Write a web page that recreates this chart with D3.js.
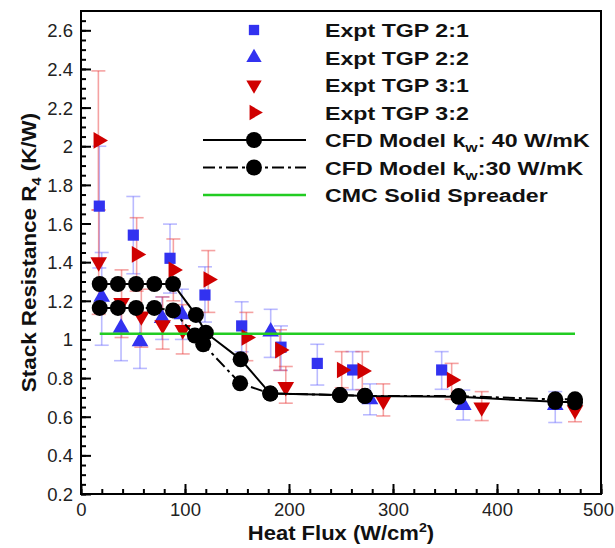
<!DOCTYPE html>
<html>
<head>
<meta charset="utf-8">
<script src="https://cdn.jsdelivr.net/npm/d3@7"></script>
<style>
  body { margin: 0; background: #fff; }
  text { font-family: "Liberation Sans", Arial, sans-serif; }
</style>
</head>
<body>
<svg id="chart" width="615" height="548"></svg>
<script>
// heat flux (W/cm2) and stack resistance (K/W)
var tgp21X  = [17.6, 50.3, 85.6, 119.2, 154.5, 192.3, 227.2, 261.2, 346.8];
var tgp21Y  = [1.69, 1.54, 1.42, 1.23, 1.07, 0.96, 0.876, 0.842, 0.842];
var tgp21Lo = [1.37, 1.34, 1.24, 1.09, 0.936, 0.84, 0.764, 0.74, 0.742];
var tgp21Hi = [2.00, 1.74, 1.597, 1.376, 1.195, 1.07, 0.975, 0.937, 0.937];

var tgp22X  = [19.9, 38.5, 56.7, 78, 97, 182.4, 277.9, 367.6, 456];
var tgp22Y  = [1.22, 1.06, 0.99, 1.11, 1.13, 1.04, 0.69, 0.66, 0.66];
var tgp22Lo = [0.97, 0.89, 0.85, 1.0, 1.0, 0.907, 0.61, 0.583, 0.57];
var tgp22Hi = [1.45, 1.21, 1.13, 1.22, 1.26, 1.156, 0.77, 0.738, 0.73];

var tgp31X  = [17, 39, 58, 78.5, 97.8, 196.9, 290.7, 385.3, 475];
var tgp31Y  = [1.40, 1.19, 1.12, 1.075, 1.05, 0.755, 0.683, 0.649, 0.635];
var tgp31Lo = [1.13, 1.01, 0.96, 0.95, 0.925, 0.67, 0.604, 0.58, 0.574];
var tgp31Hi = [1.67, 1.36, 1.26, 1.22, 1.18, 0.86, 0.77, 0.73, 0.70];

var tgp32X  = [16.7, 53.5, 88.8, 122.4, 159, 191.3, 250.7, 270.5, 356.4];
var tgp32Y  = [2.03, 1.44, 1.36, 1.31, 1.01, 0.945, 0.842, 0.837, 0.79];
var tgp32Lo = [1.67, 1.25, 1.20, 1.14, 0.89, 0.84, 0.75, 0.74, 0.69];
var tgp32Hi = [2.39, 1.63, 1.52, 1.46, 1.14, 1.05, 0.937, 0.937, 0.876];

var cfd40X = [18, 35.5, 53, 70.5, 88.5, 110.5, 120, 153.5, 182, 249, 273, 363, 456, 475];
var cfd40Y = [1.287, 1.287, 1.287, 1.287, 1.287, 1.127, 1.035, 0.897, 0.72, 0.712, 0.707, 0.703, 0.677, 0.675];
var cfd30X = [18, 35.5, 53, 70.5, 88.5, 109.5, 117.5, 153, 182, 249, 273, 363, 456, 475];
var cfd30Y = [1.163, 1.163, 1.163, 1.163, 1.15, 1.02, 0.975, 0.773, 0.72, 0.712, 0.708, 0.707, 0.69, 0.69];

var cmcX = [18, 475];
var cmcY = [1.03, 1.03];

var xTicks = [0, 100, 200, 300, 400, 500];
var yTicks = [0.2, 0.4, 0.6, 0.8, 1, 1.2, 1.4, 1.6, 1.8, 2, 2.2, 2.4, 2.6];

var legendLabels = ['Expt TGP 2:1', 'Expt TGP 2:2', 'Expt TGP 3:1', 'Expt TGP 3:2',
                    'CFD Model k|w|: 40 W/mK', 'CFD Model k|w|:30 W/mK', 'CMC Solid Spreader'];

var svg = d3.select('#chart');
var margin = { top: 11, right: 14, bottom: 54, left: 81 };
var width = 615, height = 548;

var x = d3.scaleLinear().domain([0, 500]).range([margin.left, width - margin.right]);
var y = d3.scaleLinear().domain([0.2, 2.7]).range([height - margin.bottom, margin.top]);

var blue = '#3232f0', red = '#d00000';
var blueBar = 'rgba(90,90,255,0.42)', redBar = 'rgba(235,60,60,0.48)';
var stretch = 1.22;

var series = [
    { xs: tgp21X, ys: tgp21Y, lo: tgp21Lo, hi: tgp21Hi, shape: d3.symbolSquare, size: 125, rot: 0, color: blue, bar: blueBar },
    { xs: tgp22X, ys: tgp22Y, lo: tgp22Lo, hi: tgp22Hi, shape: d3.symbolTriangle, size: 120, rot: 0, color: blue, bar: blueBar },
    { xs: tgp31X, ys: tgp31Y, lo: tgp31Lo, hi: tgp31Hi, shape: d3.symbolTriangle, size: 120, rot: 180, color: red, bar: redBar },
    { xs: tgp32X, ys: tgp32Y, lo: tgp32Lo, hi: tgp32Hi, shape: d3.symbolTriangle, size: 120, rot: 90, color: red, bar: redBar }
];

// axes (ticks point inward)
svg.append('g')
    .attr('transform', 'translate(0,' + y(0.2) + ')')
    .call(d3.axisBottom(x).tickValues(d3.range(0, 501, 20)).tickSize(-5).tickFormat(''))
    .call(g => g.select('.domain').remove());
svg.append('g')
    .attr('transform', 'translate(' + x(0) + ',0)')
    .call(d3.axisLeft(y).tickValues(d3.range(0.2, 2.7, 0.05)).tickSize(-5).tickFormat(''))
    .call(g => g.select('.domain').remove());

var xAxis = svg.append('g')
    .attr('transform', 'translate(0,' + y(0.2) + ')')
    .call(d3.axisBottom(x).tickValues(xTicks).tickSize(-10).tickPadding(5).tickFormat(d3.format('d')));
xAxis.select('.domain').remove();

var yAxis = svg.append('g')
    .attr('transform', 'translate(' + x(0) + ',0)')
    .call(d3.axisLeft(y).tickValues(yTicks).tickSize(-10).tickPadding(8).tickFormat(d => String(+d.toFixed(1))));
yAxis.select('.domain').remove();

svg.selectAll('.tick line').attr('stroke', '#000').attr('stroke-width', 2);
svg.selectAll('.tick text').attr('fill', '#222').style('font-size', '18.5px');
xAxis.selectAll('.tick text').attr('dy', '0.9em').filter(d => d === 500).attr('dx', -3);
yAxis.selectAll('.tick text').attr('dy', '0.35em');

// error bars
series.forEach(function(s) {
    var g = svg.append('g').attr('stroke', s.bar).attr('stroke-width', 1.6).attr('fill', 'none');
    s.xs.forEach(function(v, i) {
        var cx = x(v);
        g.append('line').attr('x1', cx).attr('x2', cx).attr('y1', y(s.lo[i])).attr('y2', y(s.hi[i]));
        g.append('line').attr('x1', cx - 7).attr('x2', cx + 7).attr('y1', y(s.lo[i])).attr('y2', y(s.lo[i]));
        g.append('line').attr('x1', cx - 7).attr('x2', cx + 7).attr('y1', y(s.hi[i])).attr('y2', y(s.hi[i]));
    });
});

// markers
series.forEach(function(s) {
    var sym = d3.symbol().type(s.shape).size(s.size);
    svg.append('g').selectAll('path')
        .data(s.xs.map((v, i) => [v, s.ys[i]]))
        .enter().append('path')
        .attr('d', sym)
        .attr('fill', s.color)
        .attr('transform', d => 'translate(' + x(d[0]) + ',' + y(d[1]) + ') rotate(' + s.rot + ')');
});

// CMC solid spreader
var line = d3.line().x(d => x(d[0])).y(d => y(d[1]));
svg.append('path')
    .datum(cmcX.map((v, i) => [v, cmcY[i]]))
    .attr('d', line).attr('stroke', '#22cc22').attr('stroke-width', 2.5).attr('fill', 'none');

// CFD models
var cfd = [
    { xs: cfd30X, ys: cfd30Y, dash: '12,4,3,4' },
    { xs: cfd40X, ys: cfd40Y, dash: null }
];
cfd.forEach(function(c) {
    var pts = c.xs.map((v, i) => [v, c.ys[i]]);
    svg.append('path').datum(pts).attr('d', line)
        .attr('stroke', '#000').attr('stroke-width', 2).attr('fill', 'none')
        .attr('stroke-dasharray', c.dash);
    svg.append('g').selectAll('circle').data(pts).enter().append('circle')
        .attr('cx', d => x(d[0])).attr('cy', d => y(d[1])).attr('r', 8).attr('fill', '#000');
});

// frame
svg.append('rect')
    .attr('x', x(0)).attr('y', y(2.7))
    .attr('width', x(500) - x(0)).attr('height', y(0.2) - y(2.7))
    .attr('fill', 'none').attr('stroke', '#000').attr('stroke-width', 2);

// legend
var legend = svg.append('g');
var legX = 254, legTextX = 325, legY0 = 30, legDy = 27.5;
legendLabels.forEach(function(lab, i) {
    var ly = legY0 + i * legDy;
    if (i < 4) {
        var s = series[i];
        legend.append('path').attr('d', d3.symbol().type(s.shape).size(s.size * 0.85))
            .attr('fill', s.color)
            .attr('transform', 'translate(' + legX + ',' + ly + ') rotate(' + s.rot + ')');
    } else if (i < 6) {
        legend.append('line').attr('x1', 203).attr('x2', 306).attr('y1', ly).attr('y2', ly)
            .attr('stroke', '#000').attr('stroke-width', 2)
            .attr('stroke-dasharray', i == 5 ? '12,4,3,4' : null);
        legend.append('circle').attr('cx', legX).attr('cy', ly).attr('r', 8).attr('fill', '#000');
    } else {
        legend.append('line').attr('x1', 203).attr('x2', 306).attr('y1', ly).attr('y2', ly)
            .attr('stroke', '#22cc22').attr('stroke-width', 2.5);
    }
    var parts = lab.split('|');
    var t = legend.append('text')
        .attr('transform', 'translate(' + legTextX + ',' + (ly + 7) + ') scale(' + stretch + ',1)')
        .style('font-size', '19px').style('font-weight', 'bold').attr('fill', '#111');
    t.append('tspan').text(parts[0]);
    if (parts.length > 1) {
        t.append('tspan').attr('dy', 5).style('font-size', '13px').text(parts[1]);
        t.append('tspan').attr('dy', -5).text(parts[2]);
    }
});

// axis titles
var xt = svg.append('text')
    .attr('transform', 'translate(' + ((x(0) + x(500)) / 2) + ',540) scale(1.1,1)')
    .attr('text-anchor', 'middle')
    .style('font-size', '20px').style('font-weight', 'bold').attr('fill', '#111');
xt.append('tspan').text('Heat Flux (W/cm');
xt.append('tspan').attr('dy', -8).style('font-size', '13px').text('2');
xt.append('tspan').attr('dy', 8).text(')');

var yt = svg.append('text')
    .attr('transform', 'translate(36,' + ((y(0.2) + y(2.7)) / 2) + ') rotate(-90) scale(1.12,1)')
    .attr('text-anchor', 'middle')
    .style('font-size', '20px').style('font-weight', 'bold').attr('fill', '#111');
yt.append('tspan').text('Stack Resistance R');
yt.append('tspan').attr('dy', 5).style('font-size', '13px').text('4');
yt.append('tspan').attr('dy', -5).text(' (K/W)');
</script>
</body>
</html>
